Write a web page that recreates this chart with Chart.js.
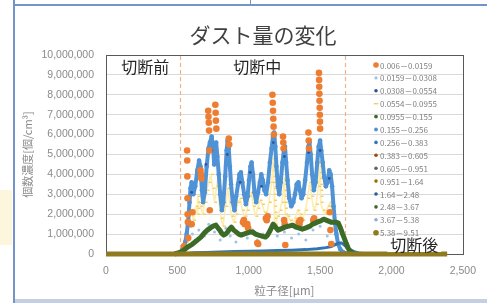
<!DOCTYPE html>
<html><head><meta charset="utf-8">
<script src="https://cdn.jsdelivr.net/npm/chart.js@4/dist/chart.umd.min.js"></script>
<style>
html,body{margin:0;padding:0;background:#fff;width:487px;height:303px;overflow:hidden;}
#wrap{position:relative;width:487px;height:303px;}
.deco{position:absolute;}
canvas{position:absolute;left:0;top:0;}
</style></head><body>
<div id="wrap">
<div class="deco" style="left:13px;top:0;width:2px;height:303px;background:#7393cb"></div>
<div class="deco" style="left:13px;top:4px;width:474px;height:2px;background:#7393cb"></div>
<div class="deco" style="left:250px;top:0;width:1px;height:5px;background:#7393cb"></div>
<div class="deco" style="left:0;top:190px;width:12px;height:55px;background:#fdf6dc"></div>
<div class="deco" style="left:15px;top:299px;width:472px;height:4px;background:#c3cfe3"></div>
<canvas id="c" width="487" height="303"></canvas>
</div>
<script>
// ---------- data ----------
const UNIT = 1000000; // y values below are in millions of particles /cm3
const xTickValues = [0, 500, 1000, 1500, 2000, 2500];
const yTickValues = [0, 1, 2, 3, 4, 5, 6, 7, 8, 9, 10];
const phaseBounds = [520, 1675];
const seriesLabels = ['0.006－0.0159','0.0159－0.0308','0.0308－0.0554','0.0554－0.0955','0.0955－0.155','0.155－0.256','0.256－0.383','0.383－0.605','0.605－0.951','0.951－1.64','1.64－2.48','2.48－3.67','3.67－5.38','5.38－9.51'];
const phaseLabels = ['切断前', '切断中', '切断後'];
const phaseLabelX = [275, 1060, 2160];
const phaseLabelY = [9.4, 9.4, 0.45];

const s1 = [[548,0.4],[568,5.2],[569,4.7],[570,3.9],[571,2.8],[572,2.0],[574,1.6],[576,0.8],[600,1.5],[606,2.1],
[662,4.2],[665,4.0],[668,3.8],[716,7.2],[718,6.9],[720,6.6],[722,6.2],[724,5.2],[727,2.2],[766,7.5],[768,7.1],[770,6.7],[773,6.3],
[860,5.8],[863,5.5],[960,1.6],[966,1.7],[972,1.5],[990,1.5],[996,1.3],[1060,0.55],[1066,0.5],[1120,1.8],[1126,1.7],[1132,1.9],
[1166,8.0],[1168,7.6],[1170,7.2],[1172,6.8],[1174,6.4],[1176,6.0],[1240,5.9],[1242,5.6],[1244,5.3],[1248,1.7],[1252,1.5],[1256,0.45],
[1350,1.6],[1356,1.5],[1362,1.7],[1418,6.1],[1420,5.7],[1422,5.3],[1452,1.7],[1458,1.8],[1464,1.6],
[1492,9.1],[1493,8.75],[1494,8.4],[1495,8.05],[1496,7.7],[1497,7.35],[1498,7.0],[1499,6.65],[1500,6.3],[1568,2.1],[1572,1.2],[1578,0.5]];
const s2 = [[560,0.5],[575,0.9],[590,1.4],[605,1.0],[625,0.7],[650,1.2],[690,0.9],[720,1.5],[760,1.1],[800,0.7],[840,1.3],[870,0.9],[910,0.6],[950,1.0],[990,0.8],[1030,1.2],[1060,0.7],[1100,1.0],[1150,1.3],[1200,0.9],[1250,1.1],[1300,0.8],[1350,1.0],[1400,0.7],[1450,1.2],[1500,1.4],[1550,0.9],[1600,0.5],[1650,0.2]];
const s3 = [[700,4.5],[742,5.2],[850,5.0],[1010,4.1],[1172,5.6],[1250,4.9],[1420,5.1],[1500,5.2],[1564,3.8],[600,3.1],[940,3.6],[1090,3.4]];
const s4 = [[530,0.1],[560,0.6],[580,1.4],[598,2.2],[612,1.7],[630,2.4],[640,2.0],[641,2.3],[642,2.6],[643,2.9],[662,2.4],[678,2.0],[692,2.6],[705,3.2],[720,3.6],[735,4.0],[748,3.3],[760,2.6],[775,3.4],
[788,4.0],[789,3.7],[790,3.4],[791,3.1],[792,2.8],[793,2.5],[805,1.8],[820,1.4],[838,2.4],[852,3.3],[866,2.6],[880,1.9],[895,1.6],[910,2.0],[925,2.6],[940,2.8],[955,2.2],[972,1.9],[988,2.2],[1004,2.9],[1018,3.1],[1032,2.4],[1048,1.9],[1062,2.3],[1078,2.7],[1094,2.5],[1110,2.1],[1126,2.0],[1142,2.6],[1160,3.6],
[1172,4.8],[1173,4.5],[1174,4.2],[1175,3.9],[1176,3.6],[1177,3.3],[1178,3.0],[1179,2.7],[1180,2.4],[1181,2.1],[1182,1.8],[1183,1.5],[1184,1.3],[1200,1.9],[1218,2.2],[1232,2.6],
[1250,3.8],[1251,3.5],[1252,3.2],[1253,2.9],[1254,2.6],[1255,2.3],[1256,2.0],[1272,1.9],[1290,1.7],[1308,1.5],[1326,1.8],[1342,2.2],[1360,2.0],[1378,1.7],[1396,2.2],[1412,2.8],[1426,3.6],[1440,2.9],[1456,2.2],[1472,2.5],[1488,3.4],
[1498,4.7],[1499,4.4],[1500,4.1],[1501,3.8],[1502,3.5],[1503,3.2],[1504,2.9],[1505,2.6],[1520,2.2],[1538,2.0],[1556,2.4],[1572,2.6],[1588,1.9],[1604,1.1],[1620,0.5],[1640,0.15],[1670,0.02]];
const s5 = [[480,0],[504,0.05],[538,0.15],[572,0.35],[606,0.5],[640,0.7],[665,0.85],[688,1.05],[710,1.2],[729,1.3],[750,1.4],[770,1.45],[785,1.3],[797,1.2],[810,1.05],[824,0.95],[838,1.0],[851,1.1],[865,1.25],[878,1.35],[895,1.2],[913,1.1],[930,1.0],[947,0.95],[965,1.0],[987,1.05],[1008,1.1],[1028,1.1],[1048,1.0],[1069,0.95],[1092,0.9],[1117,0.85],[1132,0.95],[1144,1.1],[1158,1.3],[1171,1.5],[1188,1.35],[1205,1.2],[1222,1.25],[1238,1.3],[1253,1.35],[1280,1.4],[1308,1.45],[1330,1.35],[1355,1.3],[1375,1.25],[1396,1.3],[1413,1.35],[1430,1.4],[1447,1.5],[1464,1.55],[1480,1.6],[1498,1.65],[1512,1.7],[1525,1.75],[1542,1.7],[1559,1.65],[1576,1.6],[1594,1.6],[1610,1.6],[1628,1.55],[1640,1.35],[1648,1.2],[1658,1.0],[1669,0.8],[1682,0.55],[1696,0.3],[1706,0.18],[1716,0.1],[1730,0.04],[1743,0]];
const s6 = [[520,0.05],[540,0.3],[555,0.6],[565,1.0],[575,1.6],[585,2.6],[592,3.3],[600,3.6],[612,3.0],[625,3.4],[640,4.2],[652,4.7],[662,4.4],[672,3.2],[680,2.6],[692,3.1],[705,4.4],[718,5.3],[728,5.6],[740,5.9],[750,5.4],[758,4.5],[765,5.0],[772,5.6],[780,4.9],[790,4.0],[800,3.0],[812,2.2],[822,2.6],[835,3.9],[845,5.2],[852,5.7],[860,5.3],[868,4.4],[876,3.5],[888,2.6],[900,2.2],[912,2.9],[925,3.5],[935,4.0],[945,4.1],[955,3.6],[968,3.0],[980,2.5],[992,2.9],[1002,3.7],[1012,4.4],[1020,4.6],[1030,4.0],[1040,3.1],[1052,2.6],[1065,3.1],[1078,3.6],[1088,4.0],[1098,3.7],[1110,3.2],[1122,3.0],[1135,3.6],[1148,4.6],[1160,5.3],[1170,5.9],[1178,6.1],[1186,5.4],[1194,4.4],[1204,3.4],[1214,3.0],[1224,3.6],[1236,4.6],[1246,5.2],[1254,5.4],[1262,4.6],[1272,3.7],[1284,2.8],[1298,2.4],[1312,2.6],[1324,3.0],[1336,3.5],[1348,3.6],[1358,3.2],[1370,2.8],[1382,3.0],[1395,3.7],[1408,4.6],[1418,5.4],[1425,5.6],[1434,5.0],[1444,4.0],[1456,3.2],[1468,3.6],[1480,4.6],[1490,5.4],[1500,5.7],[1508,5.2],[1518,4.6],[1528,3.9],[1540,3.4],[1552,3.6],[1564,4.2],[1574,4.0],[1584,3.4],[1594,2.4],[1604,1.6],[1614,1.0],[1626,0.5],[1640,0.25],[1660,0.1],[1690,0.02]];
const s7 = [[530,0],[560,0.03],[620,0.06],[700,0.08],[800,0.1],[900,0.12],[1000,0.14],[1100,0.15],[1200,0.17],[1300,0.19],[1400,0.22],[1480,0.26],[1540,0.32],[1580,0.38],[1610,0.48],[1630,0.55],[1650,0.55],[1665,0.48],[1680,0.38],[1700,0.28],[1720,0.18],[1745,0.1],[1770,0.05],[1800,0.02],[1830,0]];
const s8 = [[560,0],[900,0],[1300,0],[1650,0]];
const s9 = [[560,0],[900,0],[1300,0],[1650,0]];
const s10 = [[560,0],[900,0],[1300,0],[1650,0]];
const s11 = [[560,0],[900,0],[1300,0],[1650,0]];
const s12 = [[560,0],[900,0],[1300,0],[1650,0]];
const s13 = [[560,0],[900,0],[1300,0],[1650,0]];
const s14 = [[0,0],[2390,0]];
const seriesData = [s1,s2,s3,s4,s5,s6,s7,s8,s9,s10,s11,s12,s13,s14];

// ---------- styles ----------
const seriesStyles = [
  {color:'#ED7D31', r:3.3, style:'circle', line:0,   order:2,  lr:2.8},
  {color:'#9DC3E6', r:1.5, style:'circle', line:0,   order:7,  lr:1.6},
  {color:'#2F5597', r:1.4, style:'circle', line:0,   order:4,  lr:1.8},
  {color:'#F2CF5E', r:2.8, style:'dash',   line:1.6, order:6,  lr:2.2, lineColor:'#FFEDB0'},
  {color:'#3B6B26', r:0,   style:'circle', line:5,   order:1,  lr:1.9},
  {color:'#4F93D6', r:2.3, style:'circle', line:4,   order:5,  lr:1.9},
  {color:'#2E75B6', r:0,   style:'circle', line:3,   order:3,  lr:1.8},
  {color:'#9E480E', r:1.2, style:'circle', line:0,   order:8,  lr:1.8},
  {color:'#636363', r:1.2, style:'circle', line:0,   order:9,  lr:1.8},
  {color:'#997300', r:1.2, style:'circle', line:0,   order:10, lr:1.8},
  {color:'#255E91', r:1.2, style:'circle', line:0,   order:11, lr:1.8},
  {color:'#43682B', r:1.2, style:'circle', line:0,   order:12, lr:1.8},
  {color:'#8FAADC', r:1.2, style:'circle', line:0,   order:13, lr:1.8},
  {color:'#8F7A1F', r:0,   style:'circle', line:5,   order:0,  lr:2.8}
];
const FONT = "'Noto Sans CJK JP', 'Noto Sans', sans-serif";
const TICKFONT = "'Liberation Sans', Arial, sans-serif";

const datasets = seriesData.map((arr, i) => {
  const st = seriesStyles[i];
  return {
    label: seriesLabels[i],
    data: arr.map(p => ({x: p[0], y: p[1] * UNIT})),
    showLine: st.line > 0,
    borderColor: st.lineColor || st.color,
    borderWidth: st.line,
    borderJoinStyle: 'round',
    backgroundColor: st.color,
    pointRadius: st.r,
    pointHoverRadius: st.r,
    pointStyle: st.style,
    pointBackgroundColor: st.color,
    pointBorderColor: st.color,
    pointBorderWidth: st.style === 'dash' ? 1.4 : 0,
    tension: 0,
    order: st.order,
    clip: false
  };
});

const overlay = {
  id: 'overlay',
  beforeDatasetsDraw(chart) {
    const {ctx, chartArea: a, scales: {x}} = chart;
    ctx.save();
    ctx.strokeStyle = '#595959'; ctx.lineWidth = 1;
    ctx.strokeRect(Math.round(a.left) + 0.5, Math.round(a.top) + 0.5, Math.round(a.width), Math.round(a.height));
    ctx.strokeStyle = '#F4B183'; ctx.lineWidth = 1.2; ctx.setLineDash([4, 3]);
    phaseBounds.forEach(v => {
      const px = Math.round(x.getPixelForValue(v)) + 0.5;
      ctx.beginPath(); ctx.moveTo(px, a.top + 1); ctx.lineTo(px, a.bottom); ctx.stroke();
    });
    ctx.restore();
  },
  afterDatasetsDraw(chart) {
    const {ctx, chartArea: a} = chart;
    ctx.save();
    const lx = a.left + 270, ly = a.top + 10, step = 12.9;
    ctx.font = "8px " + FONT; ctx.textBaseline = 'middle'; ctx.fillStyle = '#7f7f7f';
    seriesLabels.forEach((lab, i) => {
      const st = seriesStyles[i], y = ly + i * step;
      if (st.style === 'dash') {
        ctx.strokeStyle = st.color; ctx.lineWidth = 1.4;
        ctx.beginPath(); ctx.moveTo(lx - 2.2, y); ctx.lineTo(lx + 2.2, y); ctx.stroke();
      } else {
        ctx.fillStyle = st.color; ctx.beginPath(); ctx.arc(lx, y, st.lr, 0, Math.PI * 2); ctx.fill();
      }
      ctx.fillStyle = '#7f7f7f'; ctx.fillText(lab, lx + 4, y + 0.5);
    });
    ctx.restore();
  },
  afterDraw(chart) {
    const {ctx, scales: {x, y}} = chart;
    ctx.save();
    ctx.fillStyle = '#404040'; ctx.font = "21px " + FONT;
    ctx.textAlign = 'center'; ctx.textBaseline = 'middle';
    ctx.fillText('ダスト量の変化', 263, 35);
    ctx.font = "16px " + FONT;
    phaseLabels.forEach((t, i) => {
      const px = x.getPixelForValue(phaseLabelX[i]), py = y.getPixelForValue(phaseLabelY[i] * UNIT);
      const w = ctx.measureText(t).width;
      if (i === 2) { ctx.fillStyle = '#ffffff'; ctx.fillRect(px - w / 2 - 3, py - 9, w + 6, 16); }
      ctx.fillStyle = '#262626'; ctx.fillText(t, px, py);
    });
    ctx.restore();
  }
};

new Chart(document.getElementById('c'), {
  type: 'scatter',
  data: {datasets},
  options: {
    responsive: false, animation: false, devicePixelRatio: 1,
    layout: {padding: {left: 17, right: 16, top: 55, bottom: 0}},
    plugins: {legend: {display: false}, tooltip: {enabled: false}, title: {display: false}},
    scales: {
      x: {
        type: 'linear', min: 0, max: 2500,
        afterBuildTicks: s => { s.ticks = xTickValues.map(v => ({value: v})); },
        afterFit: s => { s.height = 49; },
        ticks: {padding: 11, color: '#8a8a8a', font: {family: TICKFONT, size: 10.5}, maxRotation: 0,
                callback: v => Number(v).toLocaleString('en-US')},
        grid: {display: false, drawTicks: false},
        border: {display: false},
        title: {display: true, text: '粒子径[μm]', color: '#8a8a8a', font: {family: FONT, size: 11.5}, padding: {top: 0, bottom: 5}}
      },
      y: {
        type: 'linear', min: 0, max: 10 * UNIT,
        afterBuildTicks: s => { s.ticks = yTickValues.map(v => ({value: v * UNIT})); },
        afterFit: s => { s.width = 89; },
        ticks: {padding: 12, color: '#8a8a8a', font: {family: TICKFONT, size: 10.5},
                callback: v => Number(v).toLocaleString('en-US')},
        grid: {color: '#d9d9d9', drawTicks: false},
        border: {display: false},
        title: {display: true, text: '個数濃度[個/cm³]', color: '#8a8a8a', font: {family: FONT, size: 11}, padding: {top: 4, bottom: 0}}
      }
    }
  },
  plugins: [overlay]
});
</script>
</body></html>
